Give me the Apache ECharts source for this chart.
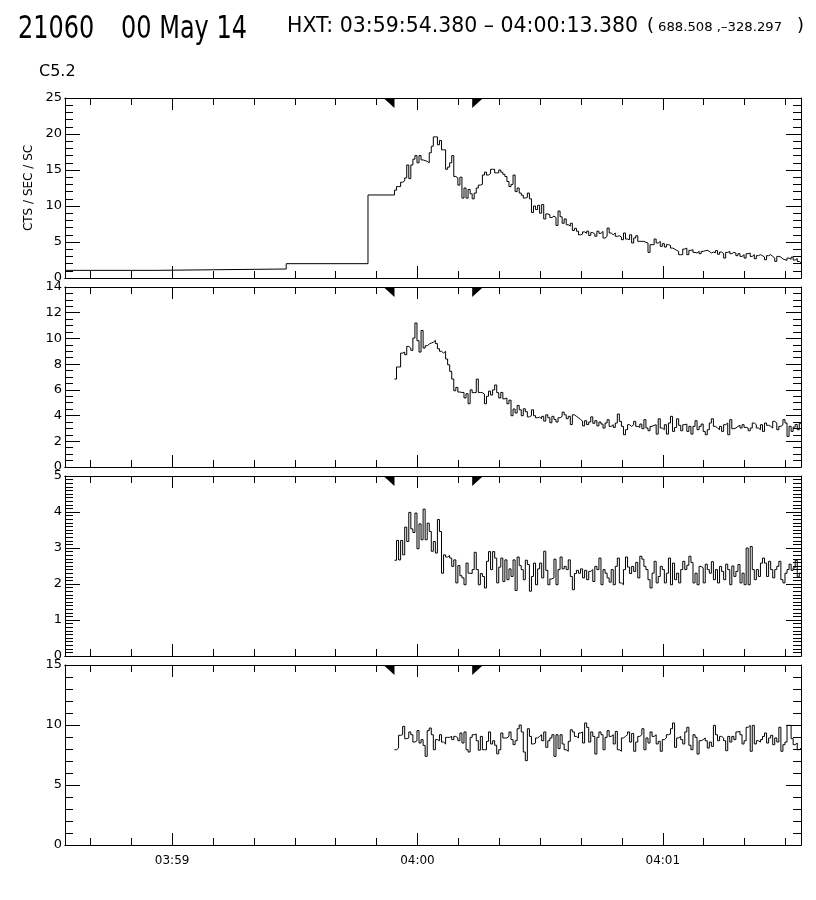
<!DOCTYPE html>
<html><head><meta charset="utf-8">
<script src="https://cdn.jsdelivr.net/npm/echarts@6/dist/echarts.min.js"></script>
<style>html,body{margin:0;padding:0;background:#fff}#c{width:816px;height:900px}</style>
</head><body><div id="c"></div>
<script>
// time in seconds relative to 04:00:00
const xMin = -86.2, xMax = 93.8;
const xMajorTicks = [-60, 0, 60];
const xTickLabels = ['03:59', '04:00', '04:01'];
const xMinorTicks = [-80, -70, -60, -50, -40, -30, -20, -10, 0, 10, 20, 30, 40, 50, 60, 70, 80, 90];
const hxtInterval = [-5.62, 13.38];
const binStart = -5.62, binWidth = 0.5;

// panel 1 : long pre-flare bins
const p1LongStarts = [-86.2, -64.2, -32.1, -12.1];
const p1LongValues = [1.06, 1.25, 1.99, 11.53];
const p1Values = [
 12.2, 12.7, 12.7, 13.3, 13.5, 13.9, 15.7, 13.8, 15.7, 16.5,
 17.0, 16.0, 17.0, 16.4, 16.3, 16.2, 16.0, 17.4, 18.3, 19.6,
 19.6, 18.5, 19.1, 17.8, 17.8, 15.1, 15.4, 16.0, 17.0, 14.1,
 13.9, 12.9, 14.0, 11.1, 12.5, 11.1, 12.3, 11.7, 11.0, 11.8,
 12.5, 12.9, 13.0, 14.3, 14.7, 14.3, 14.5, 15.1,
 15.1, 14.6, 14.6, 15.0, 14.7, 14.4, 14.1, 13.4,
 12.7, 13.0, 14.3, 12.0, 12.5, 11.8, 11.5, 11.1, 11.2,
 11.8, 11.0,
 9.1, 10.0, 9.5, 10.1, 9.0, 10.2, 8.2, 8.9, 8.8, 8.4,
 8.6, 8.4, 7.3, 9.3, 8.5, 7.6, 8.2, 7.4, 7.2, 7.6,
 6.6, 6.9, 6.5, 6.0, 6.1,
 6.4, 6.2, 6.5, 5.9, 6.3, 6.1, 5.8, 6.5, 6.2,
 6.47, 5.55, 5.79, 6.94, 6.25, 6.01, 6.25, 5.79, 5.87, 5.69,
 5.32, 6.25, 5.41, 5.32, 6.01, 4.86, 5.55, 5.87, 5.09, 5.09,
 5.09, 4.95, 4.86, 3.56, 4.63, 4.63, 5.41, 4.86, 5.09, 4.40,
 4.77, 4.30, 4.63, 4.53, 4.16, 4.02, 3.84, 3.70, 3.24, 3.24,
 4.02, 4.16, 3.24, 3.84, 3.93, 3.56, 3.47, 3.70, 3.38, 3.70,
 3.79, 3.84, 3.70, 3.47, 3.60, 3.50, 3.80, 3.30, 3.60, 3.40,
 2.77, 3.56, 3.70, 3.38, 3.56, 3.47, 3.10, 3.38, 3.00, 3.24,
 2.77, 3.38, 3.47, 3.00, 3.24, 2.68, 3.10, 3.24, 3.10, 2.91,
 2.54, 3.10, 3.24, 3.00, 2.77, 2.31, 3.00, 2.91, 2.64, 2.54,
 2.45, 2.77, 2.60, 2.90, 2.50, 2.70, 2.30, 2.08
];
const p2Values = [
 6.84, 7.78, 7.78, 8.86, 8.94, 8.73, 9.38, 9.25, 9.07, 10.03,
 11.2, 9.82, 8.94, 10.62, 9.25, 9.43, 9.56, 9.64, 9.7, 9.85,
 9.6, 9.2, 9.0, 8.86, 9.0, 8.4, 7.95, 7.44, 6.84, 5.93,
 6.19, 5.83, 5.8, 5.8, 5.37, 5.7, 4.92, 6.0, 5.78, 5.8,
 6.84, 5.8, 5.78, 5.67, 4.92, 5.5, 5.9, 5.6, 6.0, 6.38,
 5.78, 5.37, 5.8, 5.3, 5.37, 4.92, 5.2, 3.99, 4.51, 4.2,
 4.79, 4.45, 3.99, 4.53, 4.3, 3.9, 3.99, 4.45, 3.99, 3.83,
 3.88, 3.76, 3.94, 3.57, 4.06, 3.83, 3.44, 3.94, 3.7, 3.5,
 3.83, 3.94, 4.27, 4.06, 3.76, 3.94, 3.3, 4.06, 3.94, 3.83,
 3.7, 3.57, 3.2, 3.6, 3.3, 3.5, 3.9, 3.4, 3.6, 3.2, 3.5,
 3.34, 3.03, 3.42, 3.68, 3.16, 3.29, 3.08, 3.42, 4.12, 3.55,
 3.16, 2.51, 2.90, 3.29, 3.16, 3.29, 3.55, 3.16, 3.08, 3.34,
 2.98, 3.68, 3.03, 2.82, 3.16, 3.24, 3.29, 2.56, 3.75, 3.03,
 2.90, 3.29, 2.56, 3.42, 3.94, 2.77, 3.08, 3.75, 3.24, 2.82,
 3.29, 3.34, 2.77, 3.16, 2.56, 3.16, 3.60, 2.90, 3.16, 3.34,
 2.77, 2.51, 2.90, 3.42, 3.75, 3.16, 3.03, 2.90, 3.16, 2.77,
 3.29, 3.42, 2.51, 3.68, 2.98, 3.03, 3.16, 3.24, 3.03, 3.29,
 3.08, 3.03, 2.82, 3.03, 3.42, 3.29, 3.03, 2.90, 3.29, 2.77,
 3.42, 3.24, 3.16, 3.03, 3.55, 3.42, 2.90, 3.16, 3.29, 3.68,
 3.42, 2.38, 3.16, 2.77, 3.10, 3.30, 2.90, 3.40
];
const p3Values = [
 2.66, 3.21, 2.67, 3.21, 2.81, 3.58, 3.18, 3.99, 3.53, 3.43,
 3.97, 2.98, 3.67, 3.23, 4.08, 3.23, 3.69, 3.46, 2.91, 3.18,
 2.86, 3.79, 3.46, 2.30, 2.81, 2.75,
 2.79, 2.72, 2.49, 2.67, 2.03, 2.51, 2.23, 2.17, 1.98, 2.58,
 2.30, 2.29, 2.40, 2.88, 2.40, 1.98, 2.29, 2.21, 1.89, 2.63,
 2.90, 2.40, 2.90, 2.72, 2.03, 2.47, 2.72, 2.07, 2.67, 2.12,
 2.42, 2.21, 2.67, 1.82, 2.75, 2.51, 2.40, 2.12, 2.66, 2.54,
 1.80, 2.21, 2.58, 1.98, 2.42, 2.58, 2.17, 2.91, 2.38, 1.98,
 2.14, 2.17, 2.69, 1.98, 2.40, 2.75, 2.42, 2.49, 2.40, 2.67,
 2.21, 1.84, 2.29, 2.38, 2.30, 2.42, 2.17, 2.38, 2.12, 2.35,
 2.40, 2.07, 2.49, 2.40, 2.72, 1.98, 2.40, 2.30, 2.17, 2.05,
 2.40, 1.98, 2.49, 2.72, 2.03, 1.98, 2.40, 2.75, 2.47, 2.29,
 2.49, 2.35, 2.60, 2.17, 2.77, 2.69, 2.49, 2.40, 2.12, 1.89,
 2.30, 2.63, 2.03, 2.21, 2.49, 2.40, 2.03, 2.30, 2.72, 1.98,
 2.58, 2.12, 2.30, 2.03, 2.40, 2.63, 2.40, 2.52, 2.77, 2.60,
 2.03, 2.30, 1.98, 2.49, 2.45, 2.03, 2.55, 2.40, 2.30, 2.62,
 2.12, 2.40, 2.03, 2.49, 2.35, 2.12, 2.55, 2.40, 1.98, 2.50,
 2.21, 2.35, 2.54, 2.03, 2.30, 1.98, 3.00, 1.98, 3.04, 2.40,
 2.12, 2.40, 2.21, 2.58, 2.72, 2.58, 2.21, 2.63, 2.40, 2.17,
 2.40, 2.49, 2.63, 2.12, 2.03, 2.30, 2.40, 2.55, 2.38, 2.45,
 2.66, 2.20, 2.30
];
const p4Values = [
 7.94, 8.08, 9.14, 9.19, 9.89, 8.86, 8.92, 9.42, 9.19, 8.58,
 8.69, 9.53, 8.5, 8.78, 8.3, 7.39, 9.53, 9.75, 9.19, 7.94,
 8.78, 8.69, 9.19, 8.58, 8.42, 8.97, 8.97, 9.05, 8.78, 9.05,
 8.92, 8.69, 9.33, 8.5, 9.42, 7.94, 7.75, 8.97, 9.19, 9.25,
 8.69, 7.9, 9.05, 7.94, 7.94, 8.64, 9.42, 8.42, 8.69, 8.31,
 7.6, 7.94, 9.33, 8.92, 8.92, 9.05, 9.42, 8.78, 8.36, 8.69,
 9.69, 10.0, 9.42, 7.75, 7.03, 9.69, 9.05, 8.42, 8.5, 8.92,
 9.05, 9.19, 8.69, 9.42, 8.14, 8.69, 8.92, 9.19, 7.39, 9.19,
 8.03, 9.19, 8.42, 7.94, 7.81, 8.64, 9.6, 9.42, 9.05, 8.92,
 9.33, 9.42, 8.5, 10.17, 9.8, 8.58, 9.42, 9.05, 7.58, 8.97,
 9.42, 9.19, 7.94, 8.97, 9.53, 9.05, 9.19, 8.42, 9.47, 7.94,
 7.81, 8.92, 9.05, 9.19, 9.42, 8.58, 9.3, 7.81, 8.58, 9.05,
 9.19, 9.69, 7.94, 8.92, 8.5, 9.42, 9.05, 9.19, 8.42, 8.64,
 7.81, 8.78, 8.92, 9.19, 9.25, 9.69, 10.17, 8.14, 8.92, 9.05,
 8.78, 8.42, 9.42, 9.81, 8.31, 7.94, 9.19, 8.97, 7.58, 8.69,
 8.78, 8.92, 8.69, 8.08, 8.58, 8.22, 9.97, 9.19, 8.69, 9.05,
 8.92, 8.69, 7.86, 9.05, 8.58, 9.05, 8.78, 9.42, 9.47, 9.19,
 8.42, 8.69, 9.81, 9.97, 7.81, 9.97, 8.42, 8.69, 8.58, 8.78,
 9.05, 9.33, 8.5, 8.92, 9.14, 8.36, 8.92, 8.58, 9.81, 7.81,
 8.36, 8.58, 9.97, 9.97, 8.86, 8.36, 8.5, 7.94, 8.08
];
const panelYMax = [25, 14, 5, 15];
const panelYInterval = [5, 2, 1, 5];
const panelYMinorSplit = [5, 4, 10, 5];

function buildSteps(values, preStarts, preValues) {
  const pts = [];
  (preStarts || []).forEach((s, i) => pts.push([s, preValues[i]]));
  values.forEach((v, i) => pts.push([+(binStart + i * binWidth).toFixed(3), v]));
  pts.push([+(binStart + values.length * binWidth).toFixed(3), values[values.length - 1]]);
  return pts;
}
const panelData = [
  buildSteps(p1Values, p1LongStarts, p1LongValues),
  buildSteps(p2Values),
  buildSteps(p3Values),
  buildSteps(p4Values)
];

const FONT = 'DejaVu Sans';
const tops = [98, 287, 476, 665];
const grids = [], xAxes = [], yAxes = [], series = [];
tops.forEach((t, p) => {
  grids.push({ left: 65, width: 736, top: t, height: 180 });
  const base = { type: 'value', gridIndex: p, min: xMin, max: xMax, splitLine: { show: false },
    axisLine: { show: true, onZero: false, lineStyle: { color: '#000', width: 1 } } };
  ['bottom', 'top'].forEach(pos => {
    xAxes.push(Object.assign({}, base, { position: pos,
      axisTick: { show: true, inside: true, length: 7, customValues: xMinorTicks, lineStyle: { color: '#000' } },
      axisLabel: { show: false } }));
    const isLabelled = pos === 'bottom' && p === 3;
    xAxes.push(Object.assign({}, base, { position: pos,
      axisTick: { show: true, inside: true, length: 12, customValues: xMajorTicks, lineStyle: { color: '#000' } },
      axisLabel: { show: isLabelled, customValues: xMajorTicks, margin: 10, color: '#000', fontFamily: FONT, fontSize: 12,
        formatter: v => xTickLabels[xMajorTicks.indexOf(v)] } }));
  });
  ['left', 'right'].forEach(pos => {
    yAxes.push({ type: 'value', gridIndex: p, position: pos, min: 0, max: panelYMax[p], interval: panelYInterval[p],
      splitLine: { show: false },
      axisLine: { show: true, onZero: false, lineStyle: { color: '#000', width: 1 } },
      axisTick: { show: true, inside: true, length: 15, lineStyle: { color: '#000' } },
      minorTick: { show: true, splitNumber: panelYMinorSplit[p], length: 8, lineStyle: { color: '#000' } },
      axisLabel: { show: pos === 'left', margin: 3, color: '#000', fontFamily: FONT, fontSize: 13 },
      name: (p === 0 && pos === 'left') ? 'CTS / SEC / SC' : '',
      nameLocation: 'middle', nameGap: 26, nameRotate: 90,
      nameTextStyle: { color: '#000', fontFamily: FONT, fontSize: 12 }
    });
  });
  series.push({
    type: 'line', xAxisIndex: p * 4, yAxisIndex: p * 2, step: 'end', showSymbol: false, symbol: 'none',
    data: panelData[p], lineStyle: { color: '#000', width: 1 }, clip: true, silent: true,
    markPoint: {
      silent: true,
      data: [
        { coord: [hxtInterval[0], panelYMax[p]], symbol: 'path://M0,0L10,0L10,10Z', symbolSize: [11, 10], symbolOffset: [-5.5, 5], itemStyle: { color: '#000' }, label: { show: false } },
        { coord: [hxtInterval[1], panelYMax[p]], symbol: 'path://M0,0L10,0L0,10Z', symbolSize: [11, 10], symbolOffset: [5.5, 5], itemStyle: { color: '#000' }, label: { show: false } }
      ]
    }
  });
});

const chart = echarts.init(document.getElementById('c'), null, { renderer: 'canvas' });
chart.setOption({
  backgroundColor: '#fff',
  animation: false,
  grid: grids, xAxis: xAxes, yAxis: yAxes, series: series,
  graphic: [
    { type: 'text', x: 18, y: 14, style: { text: '21060', font: '24px "DejaVu Sans"', fill: '#000' }, scaleY: 1.3 },
    { type: 'text', x: 121, y: 14, style: { text: '00 May 14', font: '24px "DejaVu Sans"', fill: '#000' }, scaleY: 1.3 },
    { type: 'text', x: 287, y: 16, style: { text: 'HXT: 03:59:54.380 – 04:00:13.380', font: '17.5px "DejaVu Sans"', fill: '#000' }, scaleX: 1.17, scaleY: 1.2 },
    { type: 'text', x: 647, y: 17, style: { text: '(', font: '18px "DejaVu Sans"', fill: '#000' } },
    { type: 'text', x: 658, y: 22, style: { text: '688.508 ,–328.297', font: '12px "DejaVu Sans"', fill: '#000' }, scaleX: 1.1 },
    { type: 'text', x: 797, y: 17, style: { text: ')', font: '18px "DejaVu Sans"', fill: '#000' } },
    { type: 'text', x: 39, y: 64, style: { text: 'C5.2', font: '16px "DejaVu Sans"', fill: '#000' } }
  ]
});
</script>
</body></html>
